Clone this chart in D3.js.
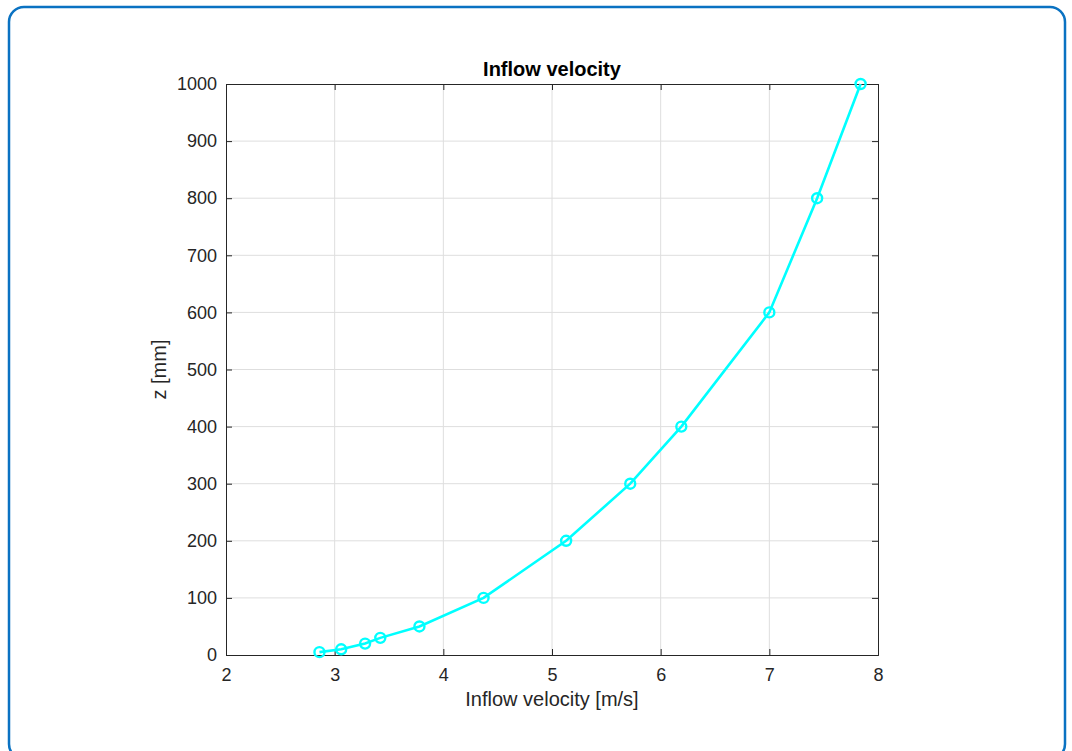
<!DOCTYPE html>
<html>
<head>
<meta charset="utf-8">
<script src="https://cdn.jsdelivr.net/npm/d3@7"></script>
<style>
  body { margin: 0; background: #fff; }
  text { font-family: "Liberation Sans", Arial, sans-serif; fill: #262626; }
</style>
</head>
<body>
<script>
// data
var velocity = [2.86, 3.06, 3.28, 3.42, 3.78, 4.37, 5.13, 5.72, 6.19, 7.0, 7.44, 7.84];
var heights = [5, 10, 20, 30, 50, 100, 200, 300, 400, 600, 800, 1000];
var xTicks = [2, 3, 4, 5, 6, 7, 8];
var yTicks = [0, 100, 200, 300, 400, 500, 600, 700, 800, 900, 1000];

var width = 1072, height = 751;
var plotLeft = 226, plotRight = 878, plotTop = 84, plotBottom = 655;

var svg = d3.select('body').append('svg').attr('width', width).attr('height', height);

// rounded frame (bottom edge runs past the window)
svg.append('rect')
  .attr('x', 9).attr('y', 7)
  .attr('width', 1056).attr('height', 752)
  .attr('rx', 15)
  .attr('fill', 'none')
  .attr('stroke', '#0a72c2')
  .attr('stroke-width', 2.5);

var x = d3.scaleLinear().domain([2, 8]).range([plotLeft, plotRight]);
var y = d3.scaleLinear().domain([0, 1000]).range([plotBottom, plotTop]);

// grid
svg.append('g').selectAll('line').data(xTicks.slice(1, -1)).enter().append('line')
  .attr('x1', function(d){ return x(d); }).attr('x2', function(d){ return x(d); })
  .attr('y1', plotTop).attr('y2', plotBottom)
  .attr('stroke', '#dedede').attr('stroke-width', 1);
svg.append('g').selectAll('line').data(yTicks.slice(1, -1)).enter().append('line')
  .attr('y1', function(d){ return y(d); }).attr('y2', function(d){ return y(d); })
  .attr('x1', plotLeft).attr('x2', plotRight)
  .attr('stroke', '#dedede').attr('stroke-width', 1);

// axes, ticks pointing inside
var xAxis = svg.append('g').attr('transform', 'translate(0,' + plotBottom + ')')
  .call(d3.axisBottom(x).tickValues(xTicks).tickSize(-6).tickPadding(13).tickFormat(d3.format('d')));
var yAxis = svg.append('g').attr('transform', 'translate(' + plotLeft + ',0)')
  .call(d3.axisLeft(y).tickValues(yTicks).tickSize(-6).tickPadding(9).tickFormat(d3.format('d')));
var xTop = svg.append('g').attr('transform', 'translate(0,' + plotTop + ')')
  .call(d3.axisTop(x).tickValues(xTicks).tickSize(-6).tickFormat(''));
var yRight = svg.append('g').attr('transform', 'translate(' + plotRight + ',0)')
  .call(d3.axisRight(y).tickValues(yTicks).tickSize(-6).tickFormat(''));

[xAxis, yAxis, xTop, yRight].forEach(function(g){
  g.select('.domain').attr('stroke', '#262626').attr('stroke-width', 1);
  g.selectAll('.tick line').attr('stroke', '#262626').attr('stroke-width', 1);
  g.selectAll('.tick text').attr('fill', '#262626')
    .style('font-family', '"Liberation Sans", Arial, sans-serif').style('font-size', '18px');
});

// curve
var line = d3.line()
  .x(function(d, i){ return x(velocity[i]); })
  .y(function(d){ return y(d); });

svg.append('path').datum(heights)
  .attr('d', line)
  .attr('fill', 'none')
  .attr('stroke', '#00ffff')
  .attr('stroke-width', 2.6);

svg.append('g').selectAll('circle').data(heights).enter().append('circle')
  .attr('cx', function(d, i){ return x(velocity[i]); })
  .attr('cy', function(d){ return y(d); })
  .attr('r', 5)
  .attr('fill', 'none')
  .attr('stroke', '#00ffff')
  .attr('stroke-width', 2.4);

// labels
svg.append('text').text('Inflow velocity')
  .attr('x', (plotLeft + plotRight) / 2).attr('y', 76)
  .attr('text-anchor', 'middle')
  .style('font-weight', 'bold').style('font-size', '20px')
  .style('fill', '#000');

svg.append('text').text('Inflow velocity [m/s]')
  .attr('x', (plotLeft + plotRight) / 2).attr('y', 706)
  .attr('text-anchor', 'middle')
  .style('font-size', '20px');

svg.append('text').text('z [mm]')
  .attr('transform', 'translate(166,' + ((plotTop + plotBottom) / 2) + ') rotate(-90)')
  .attr('text-anchor', 'middle')
  .style('font-size', '20px');
</script>
</body>
</html>
